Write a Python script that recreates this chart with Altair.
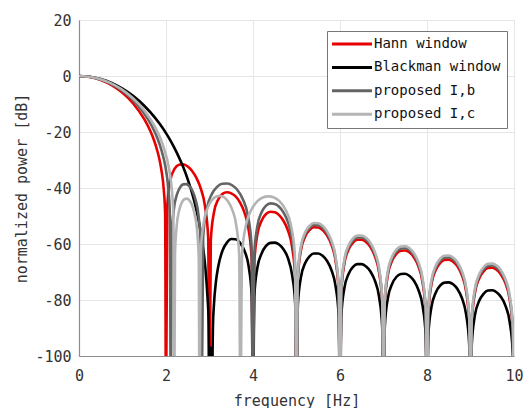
import altair as alt
import pandas as pd

# Sampling grid for the side lobes between 4 Hz and 10 Hz (nulls on whole hertz)
f_4_10 = [
    4.03, 4.1, 4.2, 4.3, 4.4, 4.5, 4.6, 4.7, 4.8, 4.9, 4.97, 5.0,
    5.03, 5.1, 5.2, 5.3, 5.4, 5.5, 5.6, 5.7, 5.8, 5.9, 5.97, 6.0,
    6.03, 6.1, 6.2, 6.3, 6.4, 6.5, 6.6, 6.7, 6.8, 6.9, 6.97, 7.0,
    7.03, 7.1, 7.2, 7.3, 7.4, 7.5, 7.6, 7.7, 7.8, 7.9, 7.97, 8.0,
    8.03, 8.1, 8.2, 8.3, 8.4, 8.5, 8.6, 8.7, 8.8, 8.9, 8.97, 9.0,
    9.03, 9.1, 9.2, 9.3, 9.4, 9.5, 9.6, 9.7, 9.8, 9.9, 9.97, 10.0,
]
f_5_10 = f_4_10[12:]

# Hann window
hann_f = [
    0.0, 0.25, 0.5, 0.75, 1.0, 1.25, 1.5, 1.6, 1.7, 1.8, 1.85, 1.9, 1.95, 1.98, 2.0,
    2.03, 2.1, 2.2, 2.3, 2.4, 2.5, 2.6, 2.7, 2.8, 2.9, 2.97, 3.0,
    3.03, 3.1, 3.2, 3.3, 3.4, 3.5, 3.6, 3.7, 3.8, 3.9, 3.97, 4.0,
] + f_4_10
hann_db = [
    0.0, -0.35, -1.42, -3.27, -6.02, -9.9, -15.4, -18.3, -21.9, -26.7, -29.8, -34.1, -40.8, -49.2, -120,
    -46.5, -37.2, -33.1, -31.7, -31.5, -32.3, -33.9, -36.4, -40.2, -46.8, -57.8, -120,
    -58.6, -48.9, -44.1, -42.1, -41.5, -41.9, -43.0, -45.1, -48.6, -54.9, -65.6, -120,
    -66.5, -56.6, -51.6, -49.3, -48.5, -48.7, -49.7, -51.7, -55.0, -61.2, -71.9, -120,
    -72.4, -62.4, -57.3, -55.0, -54.0, -54.1, -55.0, -56.9, -60.1, -66.2, -76.8, -120,
    -77.1, -67.1, -61.9, -59.5, -58.5, -58.5, -59.3, -61.1, -64.3, -70.3, -80.9, -120,
    -81.2, -71.1, -65.9, -63.4, -62.4, -62.3, -63.0, -64.8, -67.9, -73.9, -84.4, -120,
    -84.7, -74.6, -69.3, -66.8, -65.7, -65.6, -66.3, -68.0, -71.1, -77.0, -87.5, -120,
    -87.7, -77.6, -72.3, -69.8, -68.6, -68.5, -69.2, -70.9, -73.9, -79.8, -90.3, -120,
]

# Blackman window
blackman_f = [
    0.0, 0.25, 0.5, 0.75, 1.0, 1.25, 1.5, 1.75, 1.85, 2.0, 2.1, 2.25, 2.4, 2.5, 2.6, 2.7,
    2.8, 2.85, 2.9, 2.95, 2.98, 3.0, 3.025, 3.05, 3.08, 3.1, 3.15, 3.2, 3.3, 3.4, 3.5,
    3.6, 3.7, 3.8, 3.9, 3.97, 4.0,
] + f_4_10
blackman_db = [
    0.0, -0.27, -1.1, -2.5, -4.51, -7.18, -10.62, -14.95, -17.0, -20.4, -23.0, -27.45, -32.7, -36.9, -41.85, -47.9,
    -55.8, -61.0, -67.7, -78.0, -88.0, -120, -97.0, -120, -88.8, -82.2, -73.2, -68.1, -62.3, -59.5, -58.2,
    -58.3, -59.5, -62.3, -68.0, -78.4, -120,
    -78.7, -68.5, -63.3, -60.7, -59.6, -59.5, -60.2, -61.9, -64.9, -71.2, -81.3, -120,
    -82.1, -72.0, -66.8, -64.4, -63.4, -63.4, -64.2, -66.0, -69.2, -75.2, -85.7, -120,
    -85.8, -75.8, -70.6, -68.2, -67.2, -67.2, -68.0, -69.8, -73.0, -79.0, -89.6, -120,
    -89.5, -79.4, -74.2, -71.7, -70.7, -70.6, -71.4, -73.1, -76.3, -82.2, -92.7, -120,
    -92.8, -82.7, -77.4, -74.9, -73.8, -73.7, -74.4, -76.1, -79.2, -85.2, -95.7, -120,
    -95.7, -85.6, -80.3, -77.8, -76.6, -76.5, -77.2, -78.9, -81.9, -87.8, -98.3, -120,
]

# proposed I,b
prop_b_f = [
    0.0, 0.264, 0.528, 0.791, 1.055, 1.319, 1.583, 1.688, 1.794, 1.899, 1.952, 2.005, 2.057, 2.089, 2.11,
    2.131, 2.181, 2.252, 2.323, 2.394, 2.465, 2.536, 2.607, 2.678, 2.749, 2.799, 2.82,
    2.855, 2.938, 3.056, 3.174, 3.292, 3.41, 3.528, 3.646, 3.764, 3.882, 3.966, 4.0,
] + f_4_10
prop_b_db = [
    0.0, -0.35, -1.42, -3.27, -6.02, -9.9, -15.4, -18.3, -21.9, -26.7, -29.8, -34.1, -40.8, -49.2, -120,
    -57.7, -47.6, -42.3, -39.8, -38.7, -38.6, -39.3, -41.0, -44.1, -50.0, -60.5, -120,
    -57.5, -47.4, -42.1, -39.6, -38.5, -38.4, -39.1, -40.8, -43.9, -49.8, -60.3, -120,
    -63.5, -53.6, -48.6, -46.3, -45.5, -45.7, -46.7, -48.7, -52.0, -58.2, -68.9, -120,
    -71.6, -61.6, -56.5, -54.2, -53.2, -53.3, -54.2, -56.1, -59.3, -65.4, -76.0, -120,
    -76.3, -66.3, -61.1, -58.7, -57.7, -57.7, -58.5, -60.3, -63.5, -69.5, -80.1, -120,
    -80.4, -70.3, -65.1, -62.6, -61.6, -61.5, -62.2, -64.0, -67.1, -73.1, -83.6, -120,
    -83.9, -73.8, -68.5, -66.0, -64.9, -64.8, -65.5, -67.2, -70.3, -76.2, -86.7, -120,
    -86.9, -76.8, -71.5, -69.0, -67.8, -67.7, -68.4, -70.1, -73.1, -79.0, -89.5, -120,
]

# proposed I,c
prop_c_f = [
    0.0, 0.274, 0.548, 0.821, 1.095, 1.369, 1.643, 1.752, 1.862, 1.971, 2.026, 2.081, 2.135, 2.168, 2.19,
    2.207, 2.248, 2.306, 2.364, 2.422, 2.48, 2.538, 2.596, 2.654, 2.712, 2.753, 2.77,
    2.798, 2.864, 2.958, 3.052, 3.146, 3.24, 3.334, 3.428, 3.522, 3.616, 3.682, 3.71,
    3.749, 3.839, 3.968, 4.097, 4.226, 4.355, 4.484, 4.613, 4.742, 4.871, 4.961, 5.0,
] + f_5_10
prop_c_db = [
    0.0, -0.35, -1.42, -3.27, -6.02, -9.9, -15.4, -18.3, -21.9, -26.7, -29.8, -34.1, -40.8, -49.2, -120,
    -63.4, -53.2, -47.8, -45.2, -44.0, -43.8, -44.4, -46.0, -49.0, -54.8, -65.2, -120,
    -62.8, -52.6, -47.1, -44.4, -43.1, -42.8, -43.3, -44.8, -47.7, -53.4, -63.6, -120,
    -63.5, -53.2, -47.6, -44.8, -43.4, -43.0, -43.4, -44.8, -47.6, -53.2, -63.5, -120,
    -70.9, -60.9, -55.8, -53.5, -52.5, -52.6, -53.5, -55.4, -58.6, -64.7, -75.3, -120,
    -75.6, -65.6, -60.4, -58.0, -57.0, -57.0, -57.8, -59.6, -62.8, -68.8, -79.4, -120,
    -79.7, -69.6, -64.4, -61.9, -60.9, -60.8, -61.5, -63.3, -66.4, -72.4, -82.9, -120,
    -83.2, -73.1, -67.8, -65.3, -64.2, -64.1, -64.8, -66.5, -69.6, -75.5, -86.0, -120,
    -86.2, -76.1, -70.8, -68.3, -67.1, -67.0, -67.7, -69.4, -72.4, -78.3, -88.8, -120,
]

series_names = ["Hann window", "Blackman window", "proposed I,b", "proposed I,c"]
series_colors = ["#e60000", "#000000", "#646464", "#b4b4b4"]
series_data = [
    (hann_f, hann_db),
    (blackman_f, blackman_db),
    (prop_b_f, prop_b_db),
    (prop_c_f, prop_c_db),
]

frames = []
for name, (fs, dbs) in zip(series_names, series_data):
    frames.append(pd.DataFrame({"frequency": fs, "power": dbs, "series": name, "idx": range(len(fs))}))
df = pd.concat(frames, ignore_index=True)

FONT = "DejaVu Sans Mono"

x_enc = alt.X(
    "frequency:Q",
    title="frequency [Hz]",
    scale=alt.Scale(domain=[0, 10], nice=False),
    axis=alt.Axis(values=[0, 2, 4, 6, 8, 10], labelExpr="'' + datum.value", labelFlush=False),
)
y_enc = alt.Y(
    "power:Q",
    title="normalized power [dB]",
    scale=alt.Scale(domain=[-100, 20], nice=False),
    axis=alt.Axis(values=[-100, -80, -60, -40, -20, 0, 20], labelExpr="'' + datum.value"),
)
# legend: a long horizontal line segment per entry, kept on a small layout size
color_enc = alt.Color(
    "series:N",
    scale=alt.Scale(domain=series_names, range=series_colors),
    legend=alt.Legend(
        title=None,
        orient="none",
        legendX=248,
        legendY=11,
        symbolType="M-4,0H4",
        symbolSize=100,
        symbolStrokeWidth=3,
        symbolOffset=12,
        labelFont=FONT,
        labelFontSize=14,
        labelColor="#111111",
        labelOffset=15,
        strokeColor="#777777",
        fillColor="#ffffff",
        padding=6,
        rowPadding=9.4,
        cornerRadius=0,
    ),
)

layers = []
for name in series_names:
    layers.append(
        alt.Chart(df)
        .transform_filter(alt.datum.series == name)
        .mark_line(strokeWidth=2.6, clip=True, interpolate="monotone")
        .encode(x=x_enc, y=y_enc, color=color_enc, order="idx:Q")
    )

chart = (
    alt.layer(*layers)
    .properties(
        width=435,
        height=336,
        padding={"left": 79, "top": 20, "right": 10, "bottom": 52},
        autosize=alt.AutoSizeParams(type="none"),
    )
    .configure_view(stroke="#e6e6e6")
    .configure_axis(
        grid=True,
        gridColor="#e6e6e6",
        gridWidth=1,
        domainColor="#8c8c8c",
        domainWidth=1.2,
        ticks=False,
        labelFont=FONT,
        labelFontSize=15,
        labelColor="#333333",
        titleFont=FONT,
        titleFontSize=15,
        titleFontWeight="normal",
        titleColor="#333333",
    )
    .configure_axisX(labelPadding=12, titlePadding=10)
    .configure_axisY(labelPadding=8, titlePadding=5)
)

chart.save("out.html", embed_options={"renderer": "svg", "actions": False})
